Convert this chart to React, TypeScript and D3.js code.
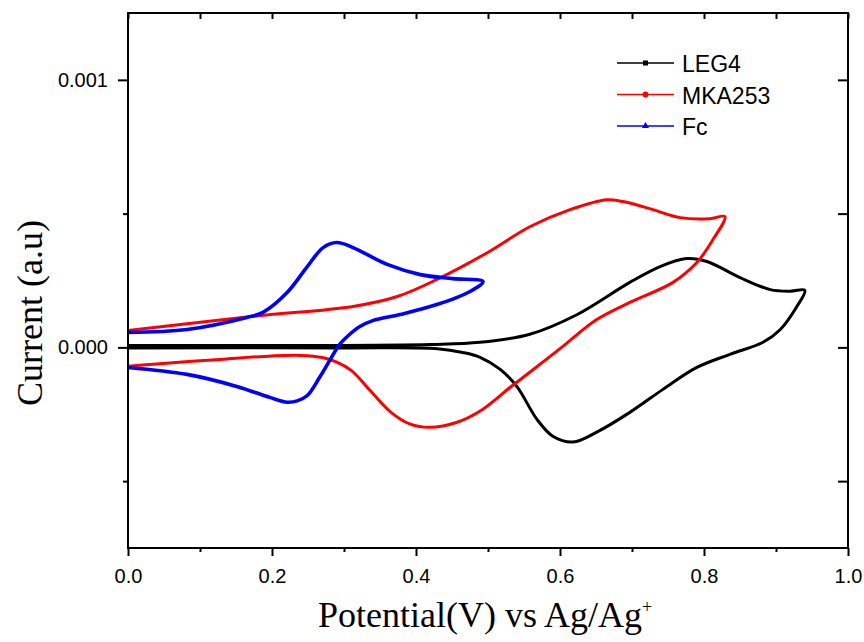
import { useEffect, useRef } from 'react';
import * as d3 from 'd3';

// cyclic voltammograms: forward scan then reverse, potential in V, current in A
const legPotential = [0, 0.239, 0.42, 0.489, 0.558, 0.624, 0.697, 0.739, 0.776, 0.804, 0.85, 0.892, 0.92, 0.94,
    0.929, 0.906, 0.882, 0.836, 0.79, 0.743, 0.697, 0.651, 0.618, 0.59, 0.568, 0.54, 0.517, 0.489, 0.465, 0.43, 0.3, 0];
const legCurrent = [0.07e-4, 0.07e-4, 0.11e-4, 0.19e-4, 0.49e-4, 1.23e-4, 2.43e-4, 3.02e-4, 3.32e-4, 3.21e-4, 2.61e-4, 2.16e-4, 2.1e-4, 2.13e-4,
    1.53e-4, 0.67e-4, 0.19e-4, -0.26e-4, -0.75e-4, -1.57e-4, -2.43e-4, -3.17e-4, -3.54e-4, -3.32e-4, -2.69e-4, -1.46e-4, -0.82e-4, -0.37e-4, -0.19e-4, -0.05e-4, -0.02e-4, -0.02e-4];

const mkaPotential = [0, 0.174, 0.3125, 0.374, 0.429, 0.499, 0.558, 0.614, 0.665, 0.6875, 0.729, 0.767, 0.808, 0.829,
    0.8125, 0.79, 0.757, 0.697, 0.651, 0.604, 0.558, 0.531, 0.493, 0.457, 0.419, 0.392, 0.364, 0.336, 0.31, 0.29, 0.27, 0.24, 0.2, 0.128, 0.035, 0];
const mkaCurrent = [0.63e-4, 1.16e-4, 1.53e-4, 1.9e-4, 2.54e-4, 3.54e-4, 4.51e-4, 5.15e-4, 5.52e-4, 5.45e-4, 5.15e-4, 4.85e-4, 4.81e-4, 4.89e-4,
    4.03e-4, 3.17e-4, 2.43e-4, 1.68e-4, 1.04e-4, 0.04e-4, -0.93e-4, -1.49e-4, -2.31e-4, -2.8e-4, -2.99e-4, -2.87e-4, -2.4e-4, -1.6e-4, -0.86e-4, -0.55e-4, -0.38e-4, -0.3e-4, -0.32e-4, -0.45e-4, -0.63e-4, -0.71e-4];

const fcPotential = [0, 0.082, 0.165, 0.1875, 0.221, 0.249, 0.271, 0.29, 0.3125, 0.36, 0.406, 0.451, 0.493,
    0.475, 0.429, 0.378, 0.34, 0.322, 0.308, 0.294, 0.281, 0.267, 0.249, 0.235, 0.221, 0.197, 0.151, 0.082, 0];
const fcCurrent = [0.56e-4, 0.67e-4, 1.12e-4, 1.31e-4, 2.05e-4, 3.02e-4, 3.73e-4, 3.92e-4, 3.73e-4, 3.1e-4, 2.72e-4, 2.57e-4, 2.46e-4,
    2.09e-4, 1.6e-4, 1.23e-4, 1.0e-4, 0.78e-4, 0.49e-4, 0.11e-4, -0.45e-4, -1.08e-4, -1.8e-4, -2.0e-4, -2.05e-4, -1.87e-4, -1.46e-4, -1.01e-4, -0.75e-4];

const seriesNames = ['LEG4', 'MKA253', 'Fc'];
const seriesColors = ['#000000', '#ff0000', '#0000ff'];

const xMajorTicks = [0, 0.2, 0.4, 0.6, 0.8, 1.0];
const xMinorTicks = [0.1, 0.3, 0.5, 0.7, 0.9];
const yMajorTicks = [0, 0.001];
const yMinorTicks = [-0.0005, 0.0005];

export default function App() {
    const svgRef = useRef<SVGSVGElement>(null);

    useEffect(() => {
        const width = 864;
        const height = 642;
        const margin = { top: 13, right: 16, bottom: 94, left: 128 };
        const innerWidth = width - margin.left - margin.right;
        const innerHeight = height - margin.top - margin.bottom;

        const root = d3.select(svgRef.current);
        root.selectAll('*').remove();

        const svg = root.append('g')
            .attr('transform', `translate(${margin.left},${margin.top})`);

        const x = d3.scaleLinear().domain([0, 1]).range([0, innerWidth]);
        const y = d3.scaleLinear().domain([-0.00075, 0.00125]).range([innerHeight, 0]);

        const series = [
            { p: legPotential, c: legCurrent, w: 3 },
            { p: mkaPotential, c: mkaCurrent, w: 3 },
            { p: fcPotential, c: fcCurrent, w: 3.6 },
        ];

        const line = d3.line().curve(d3.curveCatmullRom.alpha(0.5));

        series.forEach((s, k) => {
            const pts = s.p.map((v, i) => [x(v), y(s.c[i])] as [number, number]);
            svg.append('path')
                .attr('fill', 'none')
                .attr('stroke', seriesColors[k])
                .attr('stroke-width', s.w)
                .attr('stroke-linejoin', 'round')
                .attr('d', line(pts));
        });

        const styleAxis = (g: any) => {
            g.select('.domain').remove();
            g.selectAll('line').attr('stroke', '#000').attr('stroke-width', 2);
            g.selectAll('text')
                .attr('fill', '#000')
                .style('font-family', 'Arial, "Liberation Sans", sans-serif')
                .style('font-size', '20px');
        };

        // bottom axis
        svg.append('g')
            .attr('transform', `translate(0,${innerHeight})`)
            .call(d3.axisBottom(x).tickValues(xMajorTicks).tickSize(8).tickPadding(13).tickFormat(d3.format('.1f')))
            .call(styleAxis);
        svg.append('g')
            .attr('transform', `translate(0,${innerHeight})`)
            .call(d3.axisBottom(x).tickValues(xMinorTicks).tickSize(4).tickFormat(() => ''))
            .call(styleAxis);

        // left axis
        svg.append('g')
            .call(d3.axisLeft(y).tickValues(yMajorTicks).tickSize(10).tickPadding(10).tickFormat(d3.format('.3f')))
            .call(styleAxis);
        svg.append('g')
            .call(d3.axisLeft(y).tickValues(yMinorTicks).tickSize(5).tickFormat(() => ''))
            .call(styleAxis);

        // top and right mirror ticks, pointing inward
        svg.append('g')
            .call(d3.axisTop(x).tickValues([...xMajorTicks, ...xMinorTicks]).tickSize(-6).tickFormat(() => ''))
            .call(styleAxis);
        svg.append('g')
            .attr('transform', `translate(${innerWidth},0)`)
            .call(d3.axisRight(y).tickValues([...yMajorTicks, ...yMinorTicks]).tickSize(-10).tickFormat(() => ''))
            .call(styleAxis);

        // frame
        svg.append('rect')
            .attr('width', innerWidth)
            .attr('height', innerHeight)
            .attr('fill', 'none')
            .attr('stroke', '#000')
            .attr('stroke-width', 2);

        // axis titles
        const xTitle = root.append('text')
            .attr('x', 485)
            .attr('y', 627)
            .attr('text-anchor', 'middle')
            .style('font-family', '"Times New Roman", "Liberation Serif", serif')
            .style('font-size', '36px')
            .text('Potential(V) vs Ag/Ag');
        xTitle.append('tspan')
            .attr('dy', -14)
            .style('font-size', '18px')
            .text('+');

        root.append('text')
            .attr('transform', 'translate(42,313) rotate(-90)')
            .attr('text-anchor', 'middle')
            .style('font-family', '"Times New Roman", "Liberation Serif", serif')
            .style('font-size', '36px')
            .text('Current (a.u)');

        // legend
        const legend = root.append('g');
        seriesNames.forEach((name, k) => {
            const ly = 63 + k * 31.5;
            const g = legend.append('g').attr('transform', `translate(0,${ly})`);
            g.append('line')
                .attr('x1', 617).attr('x2', 674)
                .attr('stroke', seriesColors[k])
                .attr('stroke-width', 1.5);
            if (k === 0) {
                g.append('rect').attr('x', 643).attr('y', -2.5).attr('width', 5).attr('height', 5).attr('fill', seriesColors[k]);
            } else if (k === 1) {
                g.append('circle').attr('cx', 645.5).attr('r', 3).attr('fill', seriesColors[k]);
            } else {
                g.append('path')
                    .attr('transform', 'translate(645.5,0)')
                    .attr('d', d3.symbol(d3.symbolTriangle, 22)())
                    .attr('fill', seriesColors[k]);
            }
            g.append('text')
                .attr('x', 682)
                .attr('y', 9)
                .style('font-family', 'Arial, "Liberation Sans", sans-serif')
                .style('font-size', '23px')
                .attr('fill', '#000')
                .text(name);
        });
    }, []);

    return (
        <svg ref={svgRef} width={864} height={642}
            style={{ position: 'absolute', left: 0, top: 0, background: '#fff' }}></svg>
    );
}
